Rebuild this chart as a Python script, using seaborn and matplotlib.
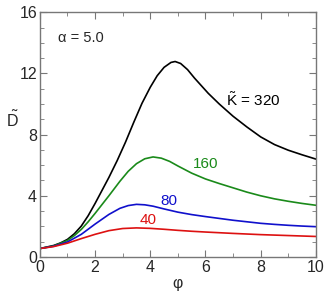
import pandas as pd
import seaborn as sns
import matplotlib.pyplot as plt

# valores
phi_320 = [0, 0.5, 0.75, 1, 1.25, 1.5, 1.75, 2, 2.5, 2.8, 3.1, 3.4, 3.7, 4.0, 4.25, 4.5, 4.75, 4.9, 5.1,
           5.35, 5.6, 5.85, 6.1, 6.5, 7.0, 7.5, 8.0, 8.5, 9.0, 9.5, 10]
d_320 = [0.55, 0.75, 0.92, 1.15, 1.52, 2.02, 2.7, 3.5, 5.2, 6.3, 7.5, 8.8, 10.05, 11.1, 11.85, 12.4, 12.72, 12.78, 12.65,
         12.25, 11.7, 11.2, 10.7, 10.0, 9.2, 8.5, 7.85, 7.35, 6.98, 6.68, 6.4]

phi_160 = [0, 0.5, 1, 1.25, 1.5, 1.75, 2, 2.5, 2.9, 3.2, 3.5, 3.8, 4.1, 4.4, 4.7, 5.0, 5.5, 6.0, 6.5, 7.0,
           7.5, 8.0, 8.5, 9.0, 9.5, 10]
d_160 = [0.55, 0.72, 1.08, 1.4, 1.8, 2.3, 2.85, 4.0, 4.95, 5.6, 6.1, 6.42, 6.54, 6.46, 6.25, 5.95, 5.48, 5.1, 4.8, 4.52,
         4.24, 4.0, 3.8, 3.64, 3.5, 3.38]

phi_80 = [0, 0.5, 1, 1.5, 2, 2.5, 2.9, 3.2, 3.5, 3.8, 4.1, 4.5, 5.0, 5.5, 6.0, 6.5, 7.0, 7.5, 8.0,
          8.5, 9.0, 9.5, 10]
d_80 = [0.55, 0.7, 0.98, 1.48, 2.15, 2.78, 3.18, 3.36, 3.44, 3.41, 3.32, 3.14, 2.93, 2.77, 2.64, 2.52, 2.4, 2.3, 2.2,
        2.13, 2.07, 2.02, 1.98]

phi_40 = [0, 0.5, 1, 1.5, 2, 2.5, 3.0, 3.5, 4.0, 4.5, 5.0, 5.5, 6.0, 7.0, 8.0, 9.0, 10]
d_40 = [0.55, 0.68, 0.9, 1.2, 1.48, 1.72, 1.86, 1.9, 1.87, 1.81, 1.74, 1.68, 1.63, 1.54, 1.46, 1.4, 1.34]

k_values = ['320', '160', '80', '40']
colors = ['black', '#1a8a1a', '#1010cc', '#dd1111']

sns.set_style('ticks')
plt.rcParams['font.family'] = ['Liberation Sans', 'DejaVu Sans']
plt.rcParams['mathtext.fontset'] = 'custom'
plt.rcParams['mathtext.rm'] = 'Liberation Sans'
plt.rcParams['mathtext.it'] = 'Liberation Sans'

frames = []
for k, x, y in zip(k_values, [phi_320, phi_160, phi_80, phi_40], [d_320, d_160, d_80, d_40]):
    frames.append(pd.DataFrame({'phi': x, 'D': y, 'K': k}))
data = pd.concat(frames)

fig, ax = plt.subplots(figsize=(3.27, 2.92), dpi=100)
fig.subplots_adjust(left=0.122, right=0.966, top=0.958, bottom=0.12)

sns.lineplot(data=data, x='phi', y='D', hue='K', palette=dict(zip(k_values, colors)),
             linewidth=1.2, legend=False, ax=ax, solid_joinstyle='round')

ax.set_xlim(0, 10)
ax.set_ylim(0, 16)
ax.set_xticks(range(0, 11, 2))
ax.set_xticks(range(0, 11, 1), minor=True)
ax.set_yticks(range(0, 17, 4))
ax.set_yticks(range(0, 17, 1), minor=True)
ax.tick_params(which='both', direction='in', top=True, right=True, color='#777777',
               labelsize=11.5, pad=2)
ax.tick_params(which='major', length=5)
ax.tick_params(which='minor', length=3)
for s in ax.spines.values():
    s.set_color('#777777')
    s.set_linewidth(1.0)

ax.set_xlabel('φ', fontsize=11.5, labelpad=1)
ax.set_ylabel(r'$\tilde{\mathrm{D}}$', fontsize=11.5, rotation=0)
ax.yaxis.set_label_coords(-0.1, 0.52)

ax.text(0.65, 14.3, 'α = 5.0', fontsize=10.5, va='center')
ax.text(6.76, 10.25, r'$\tilde{\mathrm{K}}$ = 320', fontsize=11, va='center', color=colors[0])
ax.text(6.0, 6.1, '160', fontsize=11, ha='center', va='center', color=colors[1])
ax.text(4.69, 3.66, '80', fontsize=11, ha='center', va='center', color=colors[2])
ax.text(3.91, 2.4, '40', fontsize=11, ha='center', va='center', color=colors[3])

plt.savefig('out.png', dpi=100)
